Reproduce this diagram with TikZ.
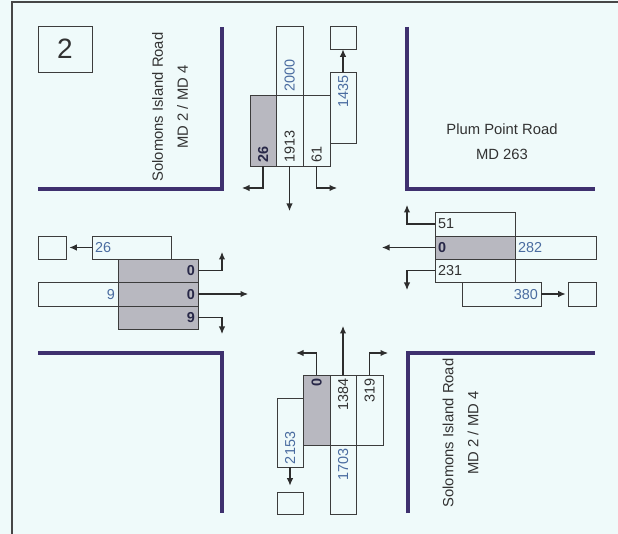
\documentclass[tikz,border=0pt]{standalone}
\usepackage{fontspec}
\setmainfont{Liberation Sans}
\usetikzlibrary{arrows.meta}
\definecolor{bgclr}{RGB}{239,250,250}
\definecolor{frameclr}{RGB}{70,70,70}
\definecolor{curbclr}{RGB}{62,48,110}
\definecolor{boxbdr}{RGB}{60,60,60}
\definecolor{shadeclr}{RGB}{184,184,192}
\definecolor{darktxt}{RGB}{50,50,50}
\definecolor{shdtxt}{RGB}{40,40,72}
\definecolor{voltxt}{RGB}{74,108,160}
\definecolor{arrowclr}{RGB}{45,45,45}
\newcommand{\numfont}{\fontsize{14.4}{16}\selectfont}
\newcommand{\roadfont}{\fontsize{14.8}{25}\selectfont}
\tikzset{
  curb/.style={line width=3.5pt,color=curbclr},
  lane/.style={rectangle,draw=boxbdr,line width=0.8pt,inner xsep=3pt,
    inner ysep=0pt,text depth=0pt,font=\numfont,text=darktxt},
  shd/.style={lane,fill=shadeclr,text=shdtxt,font=\numfont\bfseries},
  vol/.style={lane,text=voltxt},
  vert/.style={rotate=90},
  outbox/.style={rectangle,draw=boxbdr,line width=0.8pt,inner sep=0pt},
  roadlbl/.style={font=\roadfont,text=darktxt,align=center},
  turn/.style={-{Latex[length=7.5pt,width=6.5pt]},line width=1.1pt,color=arrowclr},
}

\begin{document}
\begin{tikzpicture}[x=1pt,y=-1pt]

  \fill[bgclr] (0,0) rectangle (618,534);
  \useasboundingbox (0,0) rectangle (618,534);
  \draw[frameclr,line width=1.2pt] (12,534) -- (12,2) -- (618,2);

  \node[outbox,minimum width=54pt,minimum height=46pt,
        font=\fontsize{28}{30}\selectfont,text=darktxt] (num) at (65,49) {2};

  % curbs
  \draw[curb] (38,189) -- (222,189) -- (222,27);
  \draw[curb] (407,27) -- (407,189) -- (595,189);
  \draw[curb] (38,353) -- (222,353) -- (222,513);
  \draw[curb] (408,513) -- (408,353) -- (595,353);

  \node[roadlbl,vert] (nroad) at (170,107) {Solomons Island Road\\MD 2 / MD 4};
  \node[roadlbl] (eroad) at (502,142) {Plum Point Road\\MD 263};
  \node[roadlbl,vert] (sroad) at (460.5,433) {Solomons Island Road\\MD 2 / MD 4};

  % north approach
  \node[shd,vert,text width=65pt,minimum height=26pt,align=left] (n26) at (263,130.5) {26};
  \node[lane,vert,text width=65pt,minimum height=27pt,align=left] (n1913) at (289.5,130.5) {1913};
  \node[vol,vert,text width=63pt,minimum height=27pt,align=left] (n2000) at (289.5,60.5) {2000};
  \node[lane,vert,text width=65pt,minimum height=27pt,align=left] (n61) at (316.5,130.5) {61};
  \node[vol,vert,text width=65pt,minimum height=26pt,align=right] (n1435) at (343,107.5) {1435};
  \node[outbox,minimum width=26pt,minimum height=23pt] (nout) at (343,37.5) {};
  \coordinate (n26end) at (242,188);
  \coordinate (n1913end) at (289.5,211);
  \coordinate (n61end) at (337,188);
  \draw[turn] (n26.west) |- (n26end);
  \draw[turn] (n1913.west) -- (n1913end);
  \draw[turn] (n61.west) |- (n61end);
  \draw[turn] (n1435) -- (nout);

  % west approach
  \node[vol,text width=73pt,minimum height=23pt,align=left] (w26) at (131.5,247.5) {26};
  \node[outbox,minimum width=28pt,minimum height=23pt] (wout) at (52,247.5) {};
  \node[shd,text width=74pt,minimum height=23pt,align=right] (wl0) at (158,270.5) {0};
  \node[shd,text width=74pt,minimum height=24pt,align=right] (wt0) at (158,294) {0};
  \node[shd,text width=74pt,minimum height=23pt,align=right] (wr9) at (158,317.5) {9};
  \node[vol,text width=74pt,minimum height=24pt,align=right] (w9) at (78,294) {9};
  \coordinate (wl0end) at (222,252);
  \coordinate (wt0end) at (248,294);
  \coordinate (wr9end) at (222,334);
  \draw[turn,shorten >=3pt] (w26) -- (wout);
  \draw[turn] (wl0.east) -| (wl0end);
  \draw[turn] (wt0.east) -- (wt0end);
  \draw[turn] (wr9.east) -| (wr9end);

  % east approach
  \node[lane,text width=74pt,minimum height=24pt,align=left] (e51) at (475,224) {51};
  \node[shd,text width=74pt,minimum height=23pt,align=left] (e0) at (475,247.5) {0};
  \node[vol,text width=75pt,minimum height=23pt,align=left] (e282) at (555.5,247.5) {282};
  \node[lane,text width=74pt,minimum height=23pt,align=left] (e231) at (475,270.5) {231};
  \node[vol,text width=73pt,minimum height=24pt,align=right] (e380) at (501.5,294) {380};
  \node[outbox,minimum width=28pt,minimum height=24pt] (eout) at (582,294) {};
  \coordinate (e51end) at (407,205);
  \coordinate (e0end) at (382,247.5);
  \coordinate (e231end) at (407,290);
  \draw[turn] (e51.west) -| (e51end);
  \draw[turn] (e0.west) -- (e0end);
  \draw[turn] (e231.west) -| (e231end);
  \draw[turn,shorten >=2pt] (e380) -- (eout);

  % south approach
  \node[shd,vert,text width=64pt,minimum height=27pt,align=right] (s0) at (316.5,410) {0};
  \node[lane,vert,text width=64pt,minimum height=26pt,align=right] (s1384) at (343,410) {1384};
  \node[lane,vert,text width=64pt,minimum height=27pt,align=right] (s319) at (369.5,410) {319};
  \node[vol,vert,text width=63pt,minimum height=26pt,align=right] (s1703) at (343,479.5) {1703};
  \node[vol,vert,text width=63pt,minimum height=26pt,align=left] (s2153) at (290,432.5) {2153};
  \node[outbox,minimum width=26pt,minimum height=22pt] (sout) at (290,503) {};
  \coordinate (s0end) at (296,353);
  \coordinate (s1384end) at (343,326);
  \coordinate (s319end) at (388,353);
  \draw[turn] (s0.east) |- (s0end);
  \draw[turn] (s1384.east) -- (s1384end);
  \draw[turn] (s319.east) |- (s319end);
  \draw[turn,shorten >=6pt] (s2153) -- (sout);

\end{tikzpicture}
\end{document}
